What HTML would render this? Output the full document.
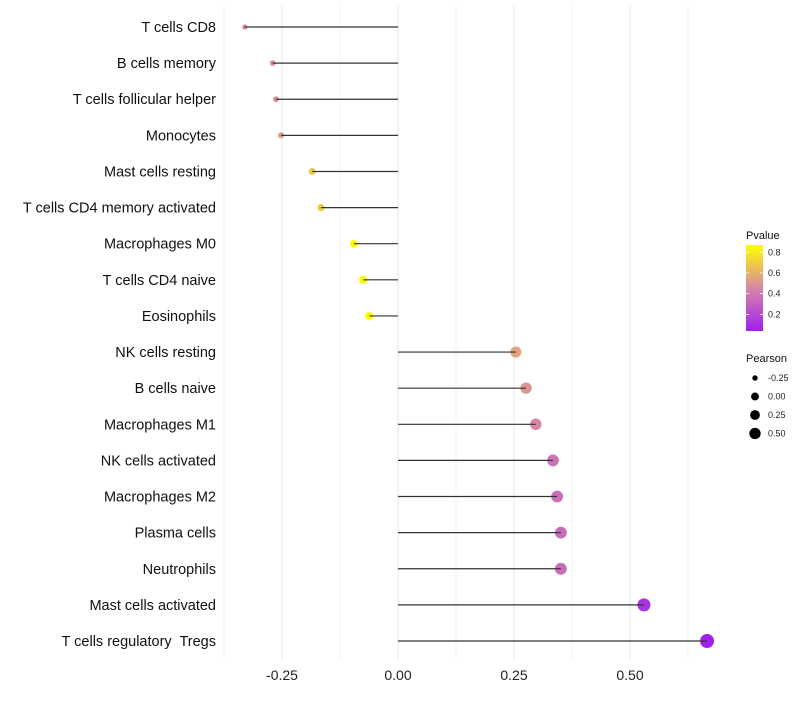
<!DOCTYPE html>
<html><head><meta charset="utf-8"><style>
body{margin:0;background:#fff;font-family:"Liberation Sans",sans-serif}
svg text{font-family:"Liberation Sans",sans-serif}
</style></head><body>
<svg id="c" width="800" height="700"></svg>
<script>
const categories=["T cells CD8","B cells memory","T cells follicular helper","Monocytes","Mast cells resting","T cells CD4 memory activated","Macrophages M0","T cells CD4 naive","Eosinophils","NK cells resting","B cells naive","Macrophages M1","NK cells activated","Macrophages M2","Plasma cells","Neutrophils","Mast cells activated","T cells regulatory\u00a0 Tregs"];
const pearson=[-0.33,-0.27,-0.263,-0.252,-0.185,-0.166,-0.095,-0.075,-0.062,0.254,0.276,0.297,0.334,0.343,0.351,0.351,0.53,0.666];
const pvalue=[0.42,0.5,0.5,0.52,0.68,0.7,0.85,0.85,0.87,0.55,0.5,0.45,0.37,0.35,0.34,0.34,0.12,0.04];
const xTicks=[-0.25,0,0.25,0.5];
const xTickLabels=["-0.25","0.00","0.25","0.50"];
const pLegend=[0.2,0.4,0.6,0.8];
const sizeLegend=[-0.25,0,0.25,0.5];
const sizeLegendLabels=["-0.25","0.00","0.25","0.50"];

const NS="http://www.w3.org/2000/svg";
const svg=document.getElementById('c');
function mk(t,a,p){const e=document.createElementNS(NS,t);for(const k in a)e.setAttribute(k,a[k]);(p||svg).appendChild(e);return e;}
const x=v=>398+v*464;
const y=i=>27+i*(614/17);
const rad=v=>Math.sqrt(Math.max(2.5,20.2+43*v));
function lerp(a,b,t){return a.map((c,i)=>Math.round(c+(b[i]-c)*t));}
const stops=[[0.04,[160,32,240]],[0.45,[215,135,165]],[0.87,[255,255,0]]];
function col(p){if(p<=stops[0][0])return `rgb(${stops[0][1]})`;for(let i=0;i<stops.length-1;i++){const[a,ca]=stops[i],[b,cb]=stops[i+1];if(p<=b)return `rgb(${lerp(ca,cb,(p-a)/(b-a))})`;}return `rgb(${stops[2][1]})`;}

[-0.375,-0.125,0.125,0.375,0.625].forEach(v=>{const g=mk('line',{x1:x(v),x2:x(v),y1:5,y2:660,stroke:'#f3f3f3','stroke-width':1});
});
xTicks.forEach((v,i)=>{const g=mk('line',{x1:x(v),x2:x(v),y1:5,y2:660,stroke:'#ebebeb','stroke-width':1.2});

const t=mk('text',{x:x(v),y:680,'text-anchor':'middle','font-size':14,fill:'#222'});t.textContent=xTickLabels[i];
});

categories.forEach((c,i)=>{
const t=mk('text',{x:216,y:y(i)+5,'text-anchor':'end','font-size':14.5,fill:'#111'});t.textContent=c;

const d=mk('circle',{cx:x(pearson[i]),cy:y(i),r:rad(pearson[i]),fill:col(pvalue[i])});

const l=mk('line',{x1:x(0),x2:x(pearson[i]),y1:y(i),y2:y(i),stroke:'#333','stroke-width':1.2});

});

const defs=mk('defs',{});
const gr=mk('linearGradient',{id:'pg',x1:0,y1:1,x2:0,y2:0},defs);
[[0,'#a020f0'],[0.5,'#d787a5'],[1,'#ffff00']].forEach(s=>mk('stop',{offset:s[0],'stop-color':s[1]},gr));
const lt=mk('text',{x:746,y:239,'font-size':11,fill:'#111'});lt.textContent='Pvalue';

const cb=mk('rect',{x:746,y:245,width:17,height:86,fill:'url(#pg)'});

const py=p=>331-(p-0.04)/(0.87-0.04)*86;
pLegend.forEach(p=>{
const tk=mk('line',{x1:746,x2:749,y1:py(p),y2:py(p),stroke:'#fff','stroke-width':0.8});
const tk2=mk('line',{x1:760,x2:763,y1:py(p),y2:py(p),stroke:'#fff','stroke-width':0.8});
const t=mk('text',{x:768,y:py(p)+3,'font-size':9,fill:'#222'});t.textContent=p.toFixed(1);
});

const st=mk('text',{x:746,y:362,'font-size':11,fill:'#111'});st.textContent='Pearson';

sizeLegend.forEach((v,i)=>{const cy=378+i*18.5;
const c=mk('circle',{cx:755,cy:cy,r:rad(v)*0.88,fill:'#000'});
const t=mk('text',{x:768,y:cy+3,'font-size':9,fill:'#222'});t.textContent=sizeLegendLabels[i];
});
</script>
</body></html>
